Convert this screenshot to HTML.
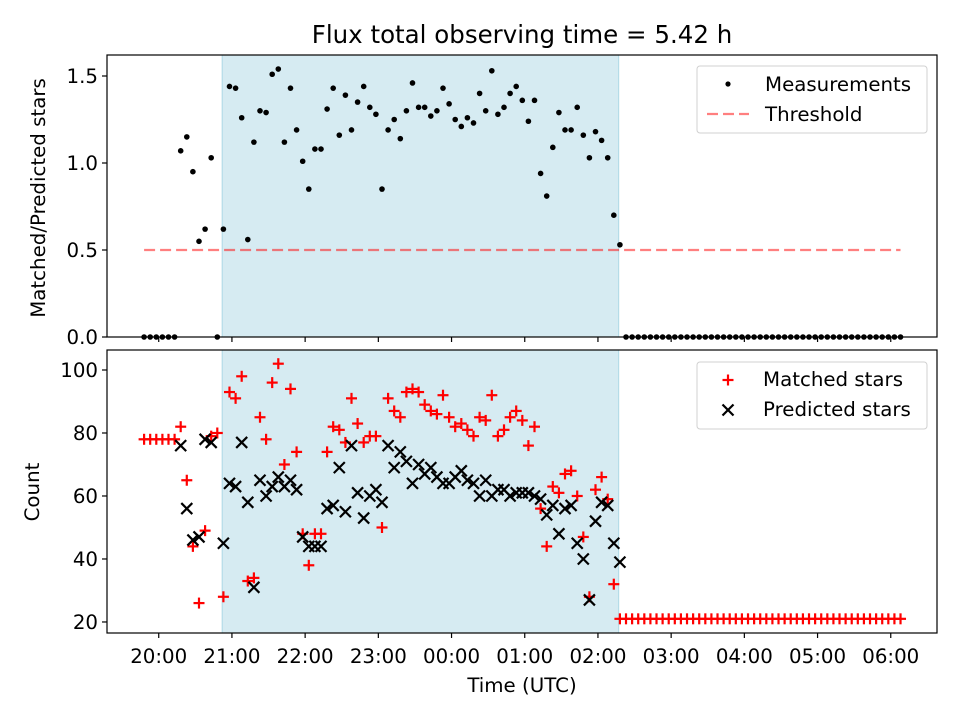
<!DOCTYPE html>
<html><head><meta charset="utf-8">
<style>
html,body{margin:0;padding:0;background:#fff;}
svg{display:block;font-family:"DejaVu Sans","Liberation Sans",sans-serif;}
</style></head>
<body>
<svg id="chart" width="960" height="720" viewBox="0 0 960 720" xmlns="http://www.w3.org/2000/svg">
<rect width="960" height="720" fill="#fff"/>
<text x="522" y="43" font-size="24.5" text-anchor="middle">Flux total observing time = 5.42 h</text>
<g id="top"></g>
<g id="bot"></g>
</svg>
<script>
// minutes since 20:00 for each sample
const times = [-12,-7,-2,3,8,13,18,23,28,33,38,43,48,53,58,63,68,73,78,83,88,93,98,103,108,113,118,123,128,133,138,143,148,153,158,163,168,173,178,183,188,193,198,203,208,213,218,223,228,233,238,243,248,253,258,263,268,273,278,283,288,293,298,303,308,313,318,323,328,333,338,343,348,353,358,363,368,373,378,383,388,393,398,403,408,413,418,423,428,433,438,443,448,453,458,463,468,473,478,483,488,493,498,503,508,513,518,523,528,533,538,543,548,553,558,563,568,573,578,583,588,593,598,603,608];
const ratio = [0,0,0,0,0,0,1.07,1.15,0.95,0.55,0.62,1.03,0,0.62,1.44,1.43,1.26,0.56,1.12,1.30,1.29,1.51,1.54,1.12,1.43,1.19,1.01,0.85,1.08,1.08,1.31,1.43,1.16,1.39,1.19,1.35,1.44,1.32,1.28,0.85,1.19,1.25,1.14,1.30,1.46,1.32,1.32,1.27,1.30,1.43,1.34,1.25,1.21,1.26,1.23,1.40,1.30,1.53,1.28,1.32,1.40,1.44,1.36,1.24,1.36,0.94,0.81,1.09,1.29,1.19,1.19,1.32,1.16,1.03,1.18,1.13,1.03,0.70,0.53,0,0,0,0,0,0,0,0,0,0,0,0,0,0,0,0,0,0,0,0,0,0,0,0,0,0,0,0,0,0,0,0,0,0,0,0,0,0,0,0,0,0,0,0,0,0];
const matched = [78,78,78,78,78,78,82,65,44,26,49,79,80,28,93,91,98,33,34,85,78,96,102,70,94,74,48,38,48,48,74,82,81,77,91,83,77,79,79,50,91,87,85,93,94,93,89,87,86,92,85,82,83,81,79,85,84,92,79,81,85,87,84,76,82,56,44,63,61,67,68,60,47,28,62,66,59,32,21,21,21,21,21,21,21,21,21,21,21,21,21,21,21,21,21,21,21,21,21,21,21,21,21,21,21,21,21,21,21,21,21,21,21,21,21,21,21,21,21,21,21,21,21,21,21];
const predicted = [null,null,null,null,null,null,76,56,46,47,78,77,null,45,64,63,77,58,31,65,60,63,66,63,65,62,47,44,44,44,56,57,69,55,76,61,53,60,62,58,76,69,74,71,64,70,67,69,66,64,64,66,68,65,64,60,65,60,62,62,60,61,61,61,60,59,54,57,48,56,57,45,40,27,52,58,57,45,39,null,null,null,null,null,null,null,null,null,null,null,null,null,null,null,null,null,null,null,null,null,null,null,null,null,null,null,null,null,null,null,null,null,null,null,null,null,null,null,null,null,null,null,null,null,null];
const xTickLabels = ["20:00","21:00","22:00","23:00","00:00","01:00","02:00","03:00","04:00","05:00","06:00"];
const xTickMinutes = [0,60,120,180,240,300,360,420,480,540,600];
const topTicks = [0,0.5,1.0,1.5];
const topTickLabels = ["0.0","0.5","1.0","1.5"];
const botTicks = [20,40,60,80,100];
const threshold = 0.5;
const thresholdRange = [-12,608];
const shade = [52,377];

const NS="http://www.w3.org/2000/svg";
const FS=19.8;
const L=107,R=937;
const xMin=-42.4,xMax=637.9;
const X=t=>L+(t-xMin)/(xMax-xMin)*(R-L);
const T={top:55,bot:337,min:0,max:1.6207};
const B={top:350,bot:633,min:16.5,max:106.35};
const Yt=v=>T.bot-(v-T.min)/(T.max-T.min)*(T.bot-T.top);
const Yb=v=>B.bot-(v-B.min)/(B.max-B.min)*(B.bot-B.top);
function mk(tag,attrs,parent){const e=document.createElementNS(NS,tag);for(const k in attrs)e.setAttribute(k,attrs[k]);parent.appendChild(e);return e;}

const gt=document.getElementById('top'), gb=document.getElementById('bot');

function frame(g,P,name){
  const s=mk('rect',{x:X(shade[0]),y:P.top,width:X(shade[1])-X(shade[0]),height:P.bot-P.top,fill:'#add8e6','fill-opacity':0.5,stroke:'#add8e6','stroke-width':1},g);
  
  
}
frame(gt,T,'top');
frame(gb,B,'bottom');

const th=mk('line',{x1:X(thresholdRange[0]),x2:X(thresholdRange[1]),y1:Yt(threshold),y2:Yt(threshold),stroke:'#ff0000','stroke-opacity':0.5,'stroke-width':2.2,'stroke-dasharray':'11,5'},gt);



ratio.forEach((v,i)=>{
  const c=mk('circle',{cx:X(times[i]),cy:Yt(v),r:2.8,fill:'#000'},gt);
  
  
});

function plus(x,y,parent){const g=mk('g',{stroke:'#ff0000','stroke-width':2.2},parent);mk('line',{x1:x-5.5,x2:x+5.5,y1:y,y2:y},g);mk('line',{x1:x,x2:x,y1:y-5.5,y2:y+5.5},g);return g;}
function cross(x,y,parent){const g=mk('g',{stroke:'#000','stroke-width':2.2},parent);mk('line',{x1:x-5.5,x2:x+5.5,y1:y-5.5,y2:y+5.5},g);mk('line',{x1:x-5.5,x2:x+5.5,y1:y+5.5,y2:y-5.5},g);return g;}
matched.forEach((v,i)=>{
  if(v==null)return;
  const m=plus(X(times[i]),Yb(v),gb);
  
  
});
predicted.forEach((v,i)=>{
  if(v==null)return;
  const m=cross(X(times[i]),Yb(v),gb);
  
  
});

[[gt,T,'top'],[gb,B,'bottom']].forEach(([g,P,n])=>{
  const f=mk('rect',{x:L,y:P.top,width:R-L,height:P.bot-P.top,fill:'none',stroke:'#000','stroke-width':1.2},g);
  
  
  xTickMinutes.forEach((t,k)=>{
    mk('line',{x1:X(t),x2:X(t),y1:P.bot,y2:P.bot+5,stroke:'#000','stroke-width':1.2},g);
    if(n==='bottom'){
      const tl=mk('text',{x:X(t),y:663,'font-size':FS,'text-anchor':'middle'},g);
      tl.textContent=xTickLabels[k];
      
      
    }
  });
});
topTicks.forEach((v,k)=>{
  mk('line',{x1:L-5,x2:L,y1:Yt(v),y2:Yt(v),stroke:'#000','stroke-width':1.2},gt);
  const tl=mk('text',{x:L-9,y:Yt(v)+7,'font-size':FS,'text-anchor':'end'},gt);
  tl.textContent=topTickLabels[k];
  
  
});
botTicks.forEach(v=>{
  mk('line',{x1:L-5,x2:L,y1:Yb(v),y2:Yb(v),stroke:'#000','stroke-width':1.2},gb);
  const tl=mk('text',{x:L-9,y:Yb(v)+7,'font-size':FS,'text-anchor':'end'},gb);
  tl.textContent=String(v);
  
  
});

let a=mk('text',{x:45,y:198,'font-size':FS,'text-anchor':'middle',transform:'rotate(-90 45 198)'},gt);
a.textContent='Matched/Predicted stars';


a=mk('text',{x:39,y:492,'font-size':FS,'text-anchor':'middle',transform:'rotate(-90 39 492)'},gb);
a.textContent='Count';


a=mk('text',{x:522,y:692,'font-size':FS,'text-anchor':'middle'},gb);
a.textContent='Time (UTC)';



function legendBox(g,y,name){
  const r=mk('rect',{x:697,y:y,width:230,height:67,rx:3,fill:'#fff','fill-opacity':0.8,stroke:'#d0d0d0','stroke-width':1},g);
  
  
}
legendBox(gt,66,'top-legend');
let c=mk('circle',{cx:728,cy:84,r:2.6,fill:'#000'},gt);


let t=mk('text',{x:765,y:91,'font-size':FS},gt);t.textContent='Measurements';


let l=mk('line',{x1:707,x2:749,y1:114,y2:114,stroke:'#ff0000','stroke-opacity':0.5,'stroke-width':2.2,'stroke-dasharray':'11,5'},gt);


t=mk('text',{x:765,y:121,'font-size':FS},gt);t.textContent='Threshold';



legendBox(gb,362,'bottom-legend');
let p=plus(728,380,gb);


t=mk('text',{x:763,y:386,'font-size':FS},gb);t.textContent='Matched stars';


p=cross(728,410,gb);


t=mk('text',{x:763,y:416,'font-size':FS},gb);t.textContent='Predicted stars';


</script>
</body></html>
